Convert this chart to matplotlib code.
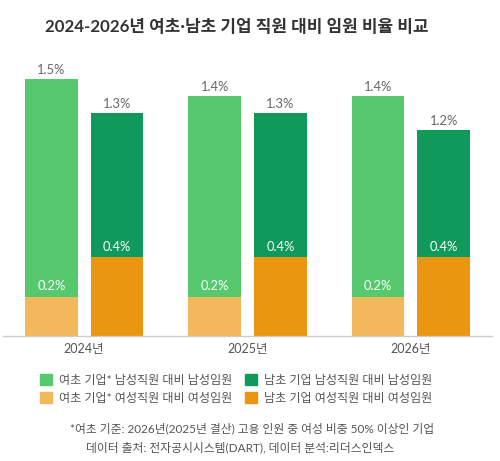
import numpy as np
import matplotlib
matplotlib.use('Agg')
import matplotlib.pyplot as plt
from matplotlib.patches import Patch

plt.rcParams['font.family'] = ['Lato', 'Noto Sans CJK KR', 'DejaVu Sans']

# data
years = ['2024년', '2025년', '2026년']
yeocho_male = [1.5, 1.4, 1.4]      # 여초 기업 남성직원 대비 남성임원
namcho_male = [1.3, 1.3, 1.2]      # 남초 기업 남성직원 대비 남성임원
yeocho_female = [0.23, 0.23, 0.23] # 여초 기업 여성직원 대비 여성임원
namcho_female = [0.46, 0.46, 0.46] # 남초 기업 여성직원 대비 여성임원
yeocho_female_labels = ['0.2%', '0.2%', '0.2%']
namcho_female_labels = ['0.4%', '0.4%', '0.4%']

legend_labels = ['여초 기업* 남성직원 대비 남성임원', '여초 기업* 여성직원 대비 여성임원',
                 '남초 기업 남성직원 대비 남성임원', '남초 기업 여성직원 대비 여성임원']

LG = '#56c96f'
DG = '#0f9a5c'
LO = '#f2b85b'
DO = '#ea9610'

fig = plt.figure(figsize=(5, 4.61), dpi=100)
ax = fig.add_axes([0.005, 125/461, 0.98, 274.4/461])

x = np.arange(len(years))
w = 0.322
off = 0.201

ax.bar(x - off, yeocho_male, w, color=LG)
ax.bar(x - off, yeocho_female, w, color=LO)
ax.bar(x + off, namcho_male, w, color=DG)
ax.bar(x + off, namcho_female, w, color=DO)

for i in range(len(years)):
    for xi, v in [(x[i] - off, yeocho_male[i]), (x[i] + off, namcho_male[i])]:
        ax.annotate(f'{v:.1f}%', (xi, v), xytext=(0, 6.5), textcoords='offset points',
                    ha='center', va='center', fontsize=9.3, color='#666666')
    ax.annotate(yeocho_female_labels[i], (x[i] - off, yeocho_female[i]), xytext=(0, 7.4),
                textcoords='offset points', ha='center', va='center', fontsize=9.3, color='white')
    ax.annotate(namcho_female_labels[i], (x[i] + off, namcho_female[i]), xytext=(0, 7.2),
                textcoords='offset points', ha='center', va='center', fontsize=9.3, color='white')

ax.set_xlim(-0.5, 2.5)
ax.set_ylim(0, 1.6)
ax.set_xticks(x)
ax.set_xticklabels(years, fontsize=9, color='#555555')
ax.tick_params(axis='x', length=0, pad=5)
ax.set_yticks([])
for s in ['top', 'right', 'left']:
    ax.spines[s].set_visible(False)
ax.spines['bottom'].set_color('#cccccc')
ax.spines['bottom'].set_linewidth(1)

fig.text(237/500, 1 - 27/461, '2024-2026년 여초·남초 기업 직원 대비 임원 비율 비교',
         ha='center', va='center', fontsize=12.2, fontweight='bold', color='#333333')

handles = [Patch(color=c) for c in [LG, LO, DG, DO]]
fig.legend(handles, legend_labels, ncol=2, loc='center', bbox_to_anchor=(236/500, 1 - 389/461),
           frameon=False, fontsize=8.7, handlelength=1.0, handleheight=1.0,
           handletextpad=0.55, columnspacing=1.1, labelspacing=0.5, labelcolor='#555555')

fig.text(252/500, 1 - 428/461, '*여초 기준: 2026년(2025년 결산) 고용 인원 중 여성 비중 50% 이상인 기업',
         ha='center', va='center', fontsize=8.5, color='#555555')
fig.text(240/500, 1 - 447/461, '데이터 출처: 전자공시시스템(DART), 데이터 분석:리더스인덱스',
         ha='center', va='center', fontsize=8.5, color='#555555')

fig.savefig('out.png', dpi=100)
